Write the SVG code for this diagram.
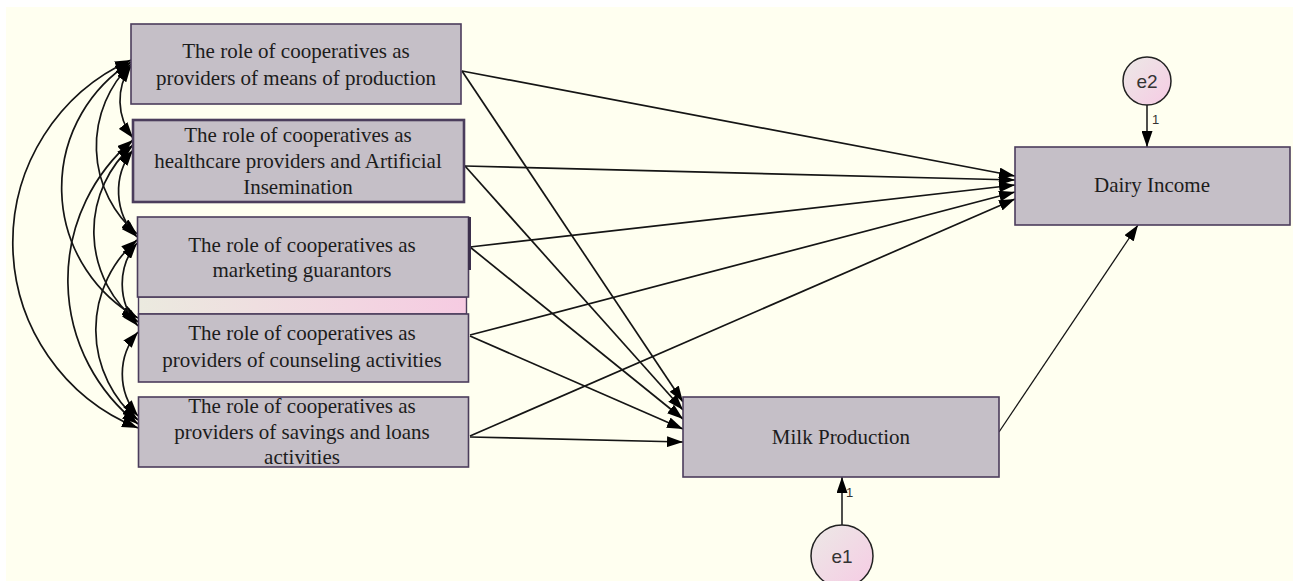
<svg xmlns="http://www.w3.org/2000/svg" width="1293" height="581" viewBox="0 0 1293 581">
<defs>
<style>
.box{fill:#c5bfc7;stroke:#4b3d5c;stroke-width:1.6}
.lbl{font-family:"Liberation Serif","Times New Roman",serif;font-size:21px;fill:#1c1c1c;text-anchor:middle}
.elbl{font-family:"Liberation Sans",Arial,sans-serif;font-size:19px;fill:#333;text-anchor:middle}
.one{font-family:"Liberation Sans",Arial,sans-serif;font-size:13px;fill:#333}
.err{stroke:#222;stroke-width:1.6}
.path{fill:none;stroke:#151515;stroke-width:1.7;marker-end:url(#ah)}
.cov{fill:none;stroke:#151515;stroke-width:1.7;marker-start:url(#ah2);marker-end:url(#ah2)}
</style>
<marker id="ah" markerUnits="userSpaceOnUse" markerWidth="16" markerHeight="11" refX="16" refY="5.5" orient="auto"><path d="M0,0 L16,5.5 L0,11 z" fill="#000"/></marker>
<marker id="ah2" markerUnits="userSpaceOnUse" markerWidth="16" markerHeight="11" refX="16" refY="5.5" orient="auto-start-reverse"><path d="M0,0 L16,5.5 L0,11 z" fill="#000"/></marker>
<linearGradient id="eg" x1="0" y1="0" x2="1" y2="1"><stop offset="0" stop-color="#ece9e6"/><stop offset="1" stop-color="#f6cbe4"/></linearGradient>
<linearGradient id="bar" x1="0" y1="0" x2="1" y2="0"><stop offset="0" stop-color="#ebeadf"/><stop offset="1" stop-color="#f6cbe2"/></linearGradient>
</defs>
<rect x="6" y="7" width="1287" height="574" fill="#fffff0"/>

<g id="connectors">
<path class="cov" d="M131,60 A200,200 0 0 0 138,428"/>
<path class="cov" d="M131,62 A149,149 0 0 0 138,318"/>
<path class="cov" d="M133,140 A183,183 0 0 0 138,424"/>
<path class="cov" d="M131,64 A115,115 0 0 0 137,234"/>
<path class="cov" d="M133,145 A115,115 0 0 0 138,322"/>
<path class="cov" d="M137,240 A118,118 0 0 0 138,420"/>
<path class="cov" d="M131,66 A60,60 0 0 0 133,138"/>
<path class="cov" d="M133,150 A66,66 0 0 0 137,237"/>
<path class="cov" d="M137,243 A64,64 0 0 0 138,326"/>
<path class="cov" d="M138,332 A64,64 0 0 0 138,416"/>
<path class="path" d="M462,71 L1015,176"/>
<path class="path" d="M465,166 L1015,180"/>
<path class="path" d="M470,247 L1015,185"/>
<path class="path" d="M470,335 L1015,192"/>
<path class="path" d="M470,436 L1015,199"/>
<path class="path" d="M462,71 L683,402"/>
<path class="path" d="M465,166 L683,410"/>
<path class="path" d="M470,247 L683,419"/>
<path class="path" d="M470,336 L683,429"/>
<path class="path" d="M470,437 L683,442"/>
<path d="M999,432 L1138,225" fill="none" stroke="#151515" stroke-width="1.3" marker-end="url(#ah)"/>
<path class="err" d="M1147,105 L1147,147" marker-end="url(#ah)"/>
<path class="err" d="M842,525 L842,477" marker-end="url(#ah)"/>
<text class="one" x="1152" y="124">1</text>
<text class="one" x="846" y="497">1</text>
</g>

<g id="bar-shape">
<rect x="138.5" y="297" width="328" height="17" fill="url(#bar)" stroke="#4b3d5c" stroke-width="1.4"/>
</g>

<g id="n1">
<rect class="box" x="131" y="24" width="330" height="80"/>
<text class="lbl" x="296" y="58">The role of cooperatives as</text>
<text class="lbl" x="296" y="85">providers of means of production</text>
</g>

<g id="n2">
<rect class="box" x="133" y="120" width="331" height="82" style="stroke-width:2.6"/>
<text class="lbl" x="298" y="142">The role of cooperatives as</text>
<text class="lbl" x="298" y="168">healthcare providers and Artificial</text>
<text class="lbl" x="298" y="194">Insemination</text>
</g>

<g id="n3">
<rect class="box" x="137.5" y="217" width="331" height="80"/>
<line x1="469.5" y1="217" x2="469.5" y2="270" stroke="#3c2f4c" stroke-width="3"/>
<text class="lbl" x="302" y="252">The role of cooperatives as</text>
<text class="lbl" x="302" y="277">marketing guarantors</text>
</g>

<g id="n4">
<rect class="box" x="138.5" y="314" width="330" height="68"/>
<text class="lbl" x="302" y="340">The role of cooperatives as</text>
<text class="lbl" x="302" y="367">providers of counseling activities</text>
</g>

<g id="n5">
<rect class="box" x="138.5" y="397" width="330" height="70"/>
<text class="lbl" x="302" y="413">The role of cooperatives as</text>
<text class="lbl" x="302" y="439">providers of savings and loans</text>
<text class="lbl" x="302" y="464">activities</text>
</g>

<g id="dairy">
<rect class="box" x="1015" y="147" width="275" height="78"/>
<text class="lbl" x="1152" y="192">Dairy Income</text>
</g>

<g id="milk">
<rect class="box" x="683" y="397" width="316" height="80"/>
<text class="lbl" x="841" y="444">Milk Production</text>
</g>

<g id="e2">
<circle cx="1147" cy="81" r="24" fill="url(#eg)" stroke="#222" stroke-width="1.5"/>
<text class="elbl" x="1147" y="88">e2</text>
</g>

<g id="e1">
<circle cx="842" cy="556" r="31" fill="url(#eg)" stroke="#222" stroke-width="1.5"/>
<text class="elbl" x="842" y="563">e1</text>
</g>
</svg>
